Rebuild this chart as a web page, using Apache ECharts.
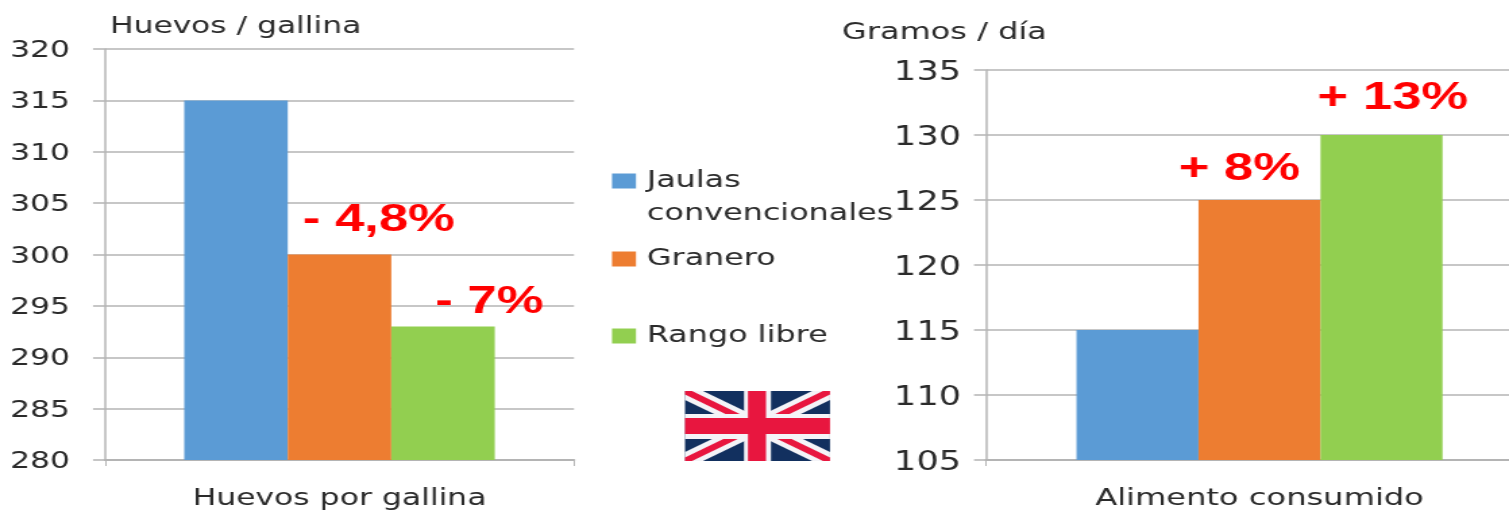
<!DOCTYPE html>
<html><head><meta charset="utf-8">
<style>html,body{margin:0;padding:0;background:#fff;overflow:hidden}#c{width:1118px;height:510px;transform-origin:0 0;transform:scaleX(1.34973)}</style>
<script src="https://cdn.jsdelivr.net/npm/echarts@6/dist/echarts.min.js"></script>
</head><body><div id="c"></div>
<script>
const seriesNames = ['Jaulas convencionales', 'Granero', 'Rango libre'];
const colors = ['#5B9BD5', '#ED7D31', '#92CF50'];
const leftCategory = ['Huevos por gallina'];
const rightCategory = ['Alimento consumido'];
const huevos = [315, 300, 293];
const alimento = [115, 125, 130];
const huevosNotes = ['', '- 4,8%', '- 7%'];
const alimentoNotes = ['', '+ 8%', '+ 13%'];
const leftTitle = 'Huevos / gallina';
const rightTitle = 'Gramos / día';

const S = 1509 / 1118;            // the reference is stretched horizontally
const X = px => px / S;
const FONT = 'DejaVu Sans';
const TXT = '#2b2b2b';
const GRID = '#b4b4b4';

function yAxis(i, min, max, name, gap, pad, fs, margin, nameFs, dy) {
  return {
    type: 'value', gridIndex: i, min, max, interval: 5,
    name, nameLocation: 'end', nameGap: gap,
    nameTextStyle: { fontFamily: FONT, fontSize: nameFs, color: TXT, align: 'left', padding: [0, 0, 0, X(pad)] },
    axisLine: { show: true, lineStyle: { color: GRID, width: 1.5 } },
    axisTick: { show: true, length: X(12), lineStyle: { color: GRID, width: 1.5 } },
    axisLabel: {
      margin: X(margin), align: 'right', formatter: '{a|{value}}',
      rich: { a: { fontFamily: FONT, fontSize: fs, color: TXT, padding: [dy * 2, 0, 0, 0] } }
    },
    splitLine: { show: true, lineStyle: { color: GRID, width: 1.5 } }
  };
}
function xAxis(i, data, fs) {
  return {
    type: 'category', gridIndex: i, data,
    axisLine: { lineStyle: { color: GRID, width: 2 } },
    axisTick: { show: true, length: 6, lineStyle: { color: GRID, width: 1 } },
    axisLabel: { fontFamily: FONT, fontSize: fs, color: TXT, margin: 27 }
  };
}
function barSeries(i, k, values, notes, pos) {
  return {
    type: 'bar', name: seriesNames[k], xAxisIndex: i, yAxisIndex: i,
    data: [values[k]], barWidth: X(i === 0 ? 103.5 : 122), barGap: 0,
    itemStyle: { color: colors[k] },
    z: 2 + k,
    label: {
      show: notes[k] !== '', position: [X(pos[0]), pos[1]], formatter: notes[k],
      fontFamily: 'Liberation Sans', fontWeight: 'bold', fontSize: 39, color: '#FF0000'
    }
  };
}
function legend(k, top) {
  return {
    data: [seriesNames[k]], left: X(612), top, orient: 'vertical', padding: 0,
    itemWidth: X(24), itemHeight: 15, icon: 'rect', itemGap: 0,
    formatter: k === 0 ? 'Jaulas' : undefined,
    selectedMode: false,
    textStyle: { fontFamily: FONT, fontSize: 23.6, color: TXT, padding: [0, 0, 0, X(4)] }
  };
}

const flagNavy = '#12305F', flagRed = '#E8163F';
const fx = 685, fy = 391, fw = 145, fh = 70;
function poly(pts, fill) {
  return { type: 'polygon', shape: { points: pts.map(p => [X(fx + p[0]), fy + p[1]]) }, style: { fill } };
}
function box(x, y, w, h, fill) {
  return { type: 'rect', shape: { x: X(fx + x), y: fy + y, width: X(w), height: h }, style: { fill } };
}
function band(a, b) {
  return [
    [[0, 0], [a, 0], [fw, fh - b], [fw, fh], [fw - a, fh], [0, b]],
    [[fw, 0], [fw, b], [a, fh], [0, fh], [0, fh - b], [fw - a, 0]]
  ];
}
const flag = {
  type: 'group', silent: true, children: [
    box(0, 0, fw, fh, flagNavy),
    ...band(18, 9).map(p => poly(p, '#f4f4f8')),
    ...band(7, 3.5).map(p => poly(p, flagRed)),
    box(59, 0, 27, fh, '#f4f4f8'),
    box(0, 23, fw, 25, '#f4f4f8'),
    box(63, 0, 18, fh, flagRed),
    box(0, 27, fw, 16, flagRed)
  ]
};

const chart = echarts.init(document.getElementById('c'), null, { renderer: 'canvas' });
chart.setOption({
  animation: false,
  backgroundColor: '#fff',
  grid: [
    { left: X(105), top: 49, width: X(469), height: 411, outerBoundsMode: 'none' },
    { left: X(986), top: 70, width: X(547), height: 390, outerBoundsMode: 'none' }
  ],
  xAxis: [xAxis(0, leftCategory, 23.3), xAxis(1, rightCategory, 23.8)],
  yAxis: [
    yAxis(0, 280, 320, leftTitle, 11, 5, 23.3, 35, 23.2, 2),
    yAxis(1, 105, 135, rightTitle, 25, -144, 26, 25, 23.7, 3)
  ],
  legend: [legend(0, 169), legend(1, 247), legend(2, 324)],
  series: [
    barSeries(0, 0, huevos, huevosNotes, [0, 0]),
    barSeries(0, 1, huevos, huevosNotes, [15, -54]),
    barSeries(0, 2, huevos, huevosNotes, [44, -44]),
    barSeries(1, 0, alimento, alimentoNotes, [0, 0]),
    barSeries(1, 1, alimento, alimentoNotes, [-20, -50]),
    barSeries(1, 2, alimento, alimentoNotes, [-3, -56])
  ],
  graphic: [
    { type: 'text', left: X(647), top: 202, silent: true, style: { text: 'convencionales', fontFamily: FONT, fontSize: 23.6, fill: TXT } },
    flag
  ]
});
</script></body></html>
